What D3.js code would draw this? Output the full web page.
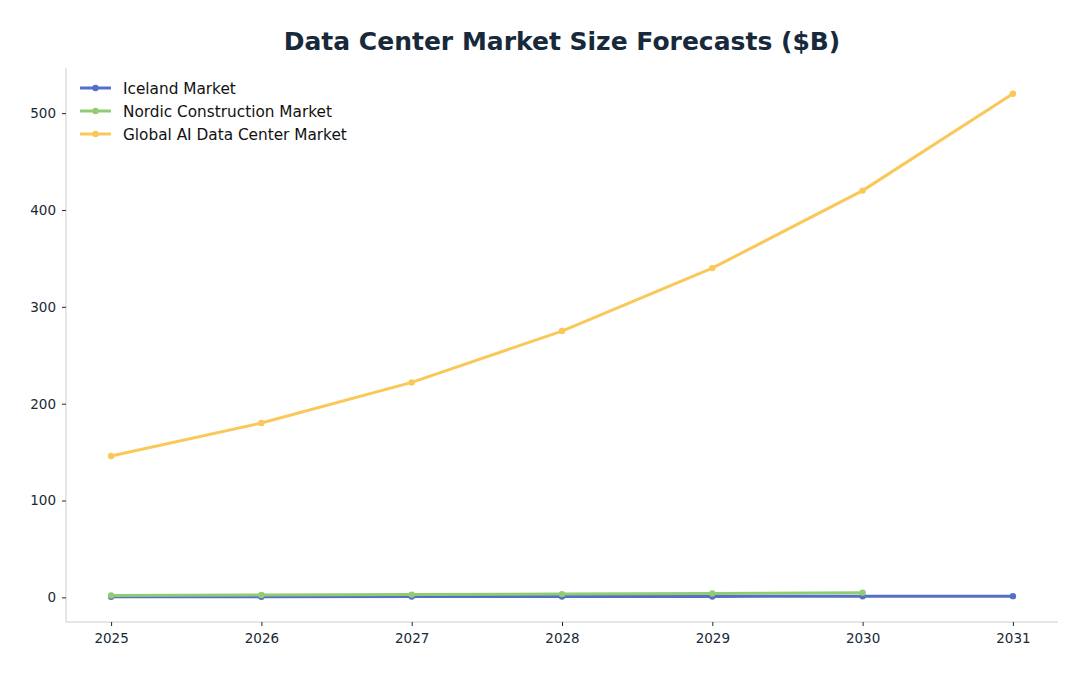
<!DOCTYPE html>
<html><head><meta charset="utf-8">
<script src="https://cdn.jsdelivr.net/npm/d3@7"></script>
<style>body{margin:0;background:#fff;}svg{display:block;font-family:"DejaVu Sans",sans-serif;}</style>
</head><body>
<svg id="chart" width="1088" height="676"></svg>
<script>
const years = [2025, 2026, 2027, 2028, 2029, 2030, 2031];
const icelandValues = [0.6, 0.7, 0.8, 0.9, 1.0, 1.2, 1.3];
const nordicValues = [2.0, 2.4, 2.9, 3.4, 4.1, 4.9, null];
const globalAiValues = [146, 180, 222, 275, 340, 420, 520];
const seriesNames = ["Iceland Market", "Nordic Construction Market", "Global AI Data Center Market"];
const seriesColors = ["#5470c6", "#91cc75", "#fac858"];
const yTicks = [0, 100, 200, 300, 400, 500];
const titleText = "Data Center Market Size Forecasts ($B)";

const series = [icelandValues, nordicValues, globalAiValues].map((vals, i) => ({
  name: seriesNames[i], color: seriesColors[i],
  points: years.map((y, j) => ({x: y, v: vals[j]})).filter(p => p.v != null)
}));

const svg = d3.select("#chart");
const L = 66, R = 1058, T = 68, B = 622;
const x = d3.scaleLinear().domain([2024.7, 2031.3]).range([L, R]);
const y = d3.scaleLinear().domain([-25.4, 546.6]).range([B, T]);
const textColor = "#1a2a35";

svg.append("text").attr("x", (L + R) / 2).attr("y", 50).attr("text-anchor", "middle")
  .attr("font-size", 25).attr("font-weight", "bold").attr("fill", "#17293a").text(titleText);

const xAxis = svg.append("g").attr("transform", `translate(0,${B})`)
  .call(d3.axisBottom(x).tickValues(years).tickFormat(d3.format("d")).tickSize(4).tickPadding(7.5));
const yAxis = svg.append("g").attr("transform", `translate(${L},0)`)
  .call(d3.axisLeft(y).tickValues(yTicks).tickSize(4).tickPadding(6));
[xAxis, yAxis].forEach(g => {
  g.select(".domain").attr("stroke", "#cccccc");
  g.selectAll(".tick line").attr("stroke", textColor);
  g.selectAll(".tick text").attr("fill", textColor).attr("font-size", 13.5)
    .attr("font-family", "DejaVu Sans, sans-serif");
});
xAxis.selectAll(".domain").attr("d", `M${L},0H${R}`);
yAxis.selectAll(".domain").attr("d", `M0,${B}V${T}`);

const line = d3.line().x(d => x(d.x)).y(d => y(d.v));
const plot = svg.append("g");
series.forEach(s => {
  plot.append("path").datum(s.points).attr("d", line).attr("fill", "none")
    .attr("stroke", s.color).attr("stroke-width", 3).attr("stroke-linejoin", "round");
  plot.selectAll(null).data(s.points).enter().append("circle")
    .attr("cx", d => x(d.x)).attr("cy", d => y(d.v)).attr("r", 3.2).attr("fill", s.color);
});

const legend = svg.append("g");
series.forEach((s, i) => {
  const ly = 88 + i * 23;
  legend.append("line").attr("x1", 80).attr("x2", 111).attr("y1", ly).attr("y2", ly)
    .attr("stroke", s.color).attr("stroke-width", 3);
  legend.append("circle").attr("cx", 95.5).attr("cy", ly).attr("r", 3.2).attr("fill", s.color);
  legend.append("text").attr("x", 123).attr("y", ly + 5.5).attr("font-size", 15.3)
    .attr("fill", "#111").text(s.name);
});
</script>
</body></html>
